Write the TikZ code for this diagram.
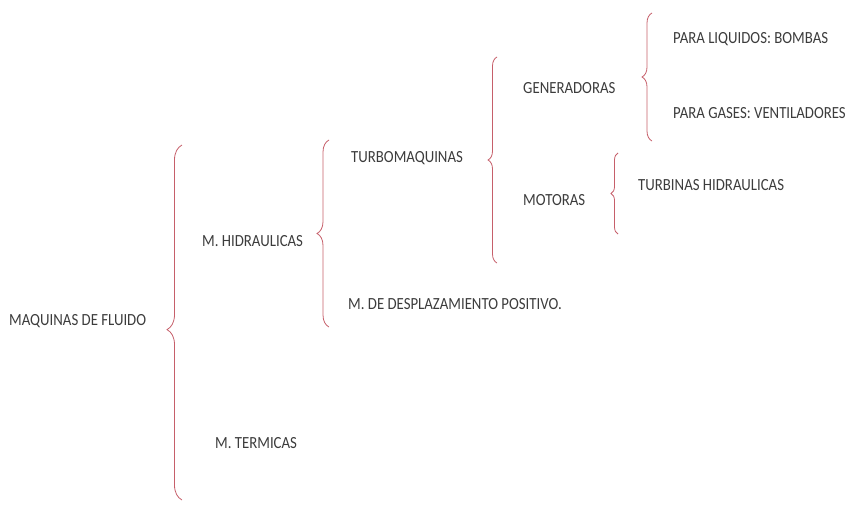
\documentclass[tikz,border=0pt]{standalone}
\usepackage{fontspec}
\setmainfont{Carlito}[FakeStretch=0.87]
\usetikzlibrary{decorations.pathreplacing}
\definecolor{bracered}{HTML}{C65F6A}
\definecolor{labelgray}{HTML}{3C3C3C}
\begin{document}
\begin{tikzpicture}[x=1pt,y=-1pt,
  lbl/.style={anchor=west,inner sep=0pt,text height=11pt,text depth=0pt,
    text=labelgray,font=\fontsize{17}{19}\selectfont},
  curly/.style={draw=bracered,line width=0.8pt,decorate,decoration={brace,amplitude=#1}},
  curly/.default=8pt]
\useasboundingbox (0,0) rectangle (858,504);
% labels
\node[lbl] (root)  at (9,320)   {MAQUINAS DE FLUIDO};
\node[lbl] (hid)   at (202,241) {M. HIDRAULICAS};
\node[lbl] (ter)   at (215,443) {M. TERMICAS};
\node[lbl] (turbo) at (351,157) {TURBOMAQUINAS};
\node[lbl] (desp)  at (348,304) {M. DE DESPLAZAMIENTO POSITIVO.};
\node[lbl] (gen)   at (523,88)  {GENERADORAS};
\node[lbl] (mot)   at (523,200) {MOTORAS};
\node[lbl] (liq)   at (673,38)  {PARA LIQUIDOS: BOMBAS};
\node[lbl] (gas)   at (673,113) {PARA GASES: VENTILADORES};
\node[lbl] (thid)  at (638,185) {TURBINAS HIDRAULICAS};
% braces, drawn bottom to top so the tip points left
\coordinate (b1a) at (182,500); \coordinate (b1b) at (182,145);
\coordinate (b2a) at (329,327); \coordinate (b2b) at (329,140);
\coordinate (b3a) at (497,263); \coordinate (b3b) at (497,57);
\coordinate (b4a) at (652,141); \coordinate (b4b) at (652,13);
\coordinate (b5a) at (618,234); \coordinate (b5b) at (618,153);
\draw[curly=15pt,decoration={aspect=0.48}] (b1a) -- (b1b);
\draw[curly=12pt] (b2a) -- (b2b);
\draw[curly=9pt]  (b3a) -- (b3b);
\draw[curly=10pt] (b4a) -- (b4b);
\draw[curly=7pt]  (b5a) -- (b5b);
\end{tikzpicture}
\end{document}
